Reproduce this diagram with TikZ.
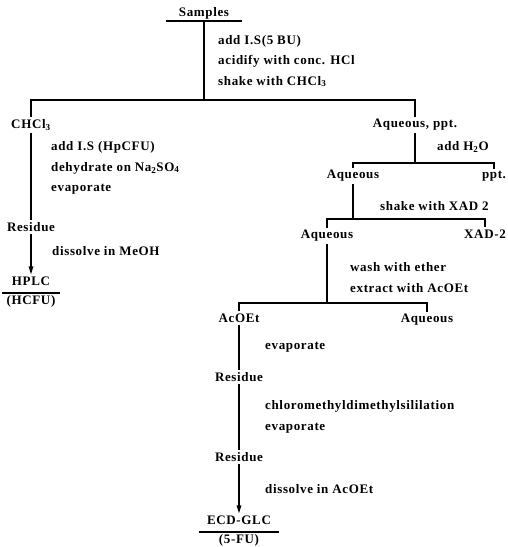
\documentclass[tikz,border=0pt]{standalone}
\usepackage{fontspec}
\newfontfamily\labfont[LetterSpace=5]{Liberation Serif}
\usetikzlibrary{arrows.meta, positioning, calc}
\tikzset{
  sub/.style={font=\labfont\fontsize{13}{15}\selectfont\bfseries, inner sep=2pt},
  note/.style={font=\labfont\fontsize{13}{20.5}\selectfont\bfseries, inner sep=0pt,
               anchor=west, align=left},
  pipe/.style={line width=1.2pt},
  arr/.style={pipe, -{Triangle[length=8pt, width=4.5pt]}},
}

\begin{document}
\begin{tikzpicture}[x=1pt, y=-1pt]
\useasboundingbox (0,0) rectangle (507,547);

% ---------- first split ----------
\node[sub, minimum width=76pt] (smp) at (204,13) {Samples};
\draw[pipe] (smp.south west) -- (smp.south east);
\coordinate (j1) at (204,100);
\node[note] (n1) at (218,61)
  {add I.S(5 BU)\\ acidify with conc. HCl\\ shake with CHCl\textsubscript{3}};

\node[sub] (chl) at (31,125) {CHCl\textsubscript{3}};
\node[sub] (aqp) at (415,125) {Aqueous, ppt.};

% ---------- CHCl3 branch ----------
\node[note] (n2) at (51,168)
  {add I.S (HpCFU)\\ dehydrate on Na\textsubscript{2}SO\textsubscript{4}\\ evaporate};
\node[sub] (res1) at (31,227) {Residue};
\node[note] (n3) at (52,251) {dissolve in MeOH};
\node[sub] (hplc) at (31,281) {HPLC};
\node[sub, minimum width=58pt] (hcfu) at (31,301) {(HCFU)};
\draw[pipe] (hcfu.north west) -- (hcfu.north east);

% ---------- aqueous branch ----------
\node[note] (n4) at (437,147) {add H\textsubscript{2}O};
\coordinate (j2) at (415,163);
\node[sub] (aq1) at (353,176) {Aqueous};
\node[sub] (ppt) at (494,176) {ppt.};

\node[note] (n5) at (380,206) {shake with XAD 2};
\coordinate (j3) at (353,219);
\node[sub] (aq2) at (327,236) {Aqueous};
\node[sub] (xad) at (485,234) {XAD-2};

\node[note] (n6) at (350,277.5) {wash with ether\\ extract with AcOEt};
\coordinate (j4) at (327,303);
\node[sub] (ace) at (239,318) {AcOEt};
\node[sub] (aq3) at (427,320) {Aqueous};

\node[note] (n7) at (265,347) {evaporate};
\node[sub] (res2) at (239,377) {Residue};
\node[note] (n8) at (265,417) {chloromethyldimethylsililation\\ evaporate};
\node[sub] (res3) at (239,457) {Residue};
\node[note] (n9) at (265,489) {dissolve in AcOEt};
\node[sub] (ecd) at (239,520) {ECD-GLC};
\node[sub, minimum width=79pt] (fu) at (239,540) {(5-FU)};
\draw[pipe] (fu.north west) -- (fu.north east);

% ---------- connectors ----------
\draw[pipe] (smp.south) -- (j1);
\draw[pipe] (chl.north) |- (j1) -| (aqp.north);
\draw[pipe] (chl.south) -- (res1.north);
\draw[arr] (res1.south) -- (hplc.north);

\draw[pipe] (aqp.south) -- (j2);
\draw[pipe] (aq1.north) |- (j2) -| (ppt.north);
\draw[pipe] (aq1.south) -- (j3);
\draw[pipe] (aq2.north) |- (j3) -| (xad.north);
\draw[pipe] (aq2.south) -- (j4);
\draw[pipe] (ace.north) |- (j4) -| (aq3.north);

\draw[pipe] (ace.south) -- (res2.north);
\draw[pipe] (res2.south) -- (res3.north);
\draw[arr] (res3.south) -- (ecd.north);

\end{tikzpicture}
\end{document}
